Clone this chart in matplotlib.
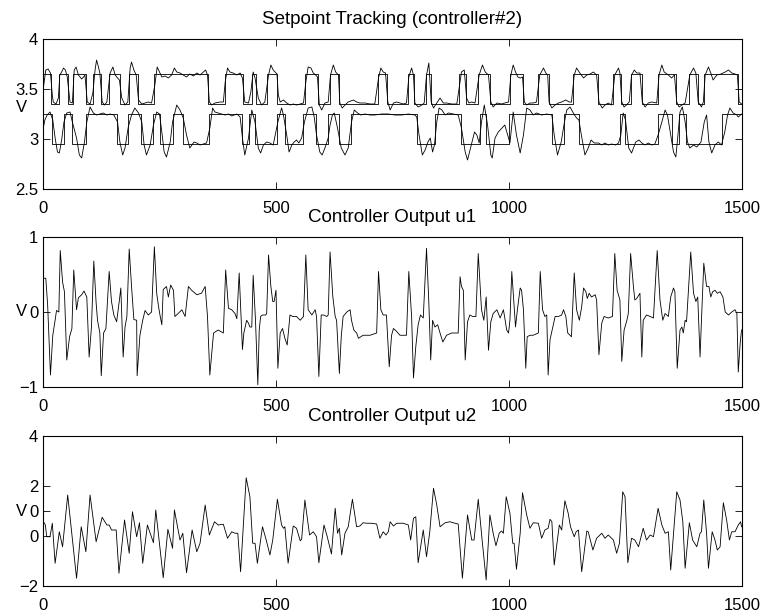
import matplotlib
matplotlib.use("Agg")
import matplotlib.pyplot as plt

plt.rcParams['font.family'] = ['Liberation Sans', 'DejaVu Sans']
plt.rcParams['font.size'] = 12

# ---------------- data ----------------
# Setpoint 1 (upper): switching times and level held from each time
sp1_t = [0, 17, 34, 54, 64, 93, 107, 125, 141, 166, 185, 203, 238, 355, 390, 430,
         449, 457, 481, 503, 562, 590, 615, 636, 718, 738, 783, 797, 821, 832, 893,
         907, 933, 959, 1002, 1031, 1063, 1085, 1138, 1191, 1224, 1240, 1261, 1285,
         1320, 1358, 1386, 1405, 1418, 1491, 1500]
sp1_v = [3.65, 3.35, 3.65, 3.35, 3.65, 3.35, 3.65, 3.35, 3.65, 3.35, 3.65, 3.35,
         3.65, 3.35, 3.65, 3.35, 3.65, 3.35, 3.65, 3.35, 3.65, 3.35, 3.65, 3.35,
         3.65, 3.35, 3.65, 3.35, 3.65, 3.35, 3.65, 3.35, 3.65, 3.35, 3.65, 3.35,
         3.65, 3.35, 3.65, 3.35, 3.65, 3.35, 3.65, 3.35, 3.65, 3.35, 3.65, 3.35,
         3.65, 3.35, 3.35]

# Setpoint 2 (lower)
sp2_t = [0, 20, 45, 63, 92, 158, 183, 210, 235, 252, 278, 300, 356, 426, 441, 455,
         503, 520, 558, 585, 612, 636, 660, 803, 842, 898, 938, 950, 1001, 1092,
         1117, 1150, 1238, 1248, 1320, 1350, 1364, 1380, 1458, 1500]
sp2_v = [3.25, 2.95, 3.25, 2.95, 3.25, 2.95, 3.25, 2.95, 3.25, 2.95, 3.25, 2.95,
         3.25, 2.95, 3.25, 2.95, 3.25, 2.95, 3.25, 2.95, 3.25, 2.95, 3.25, 2.95,
         3.25, 2.95, 3.25, 2.95, 3.25, 2.95, 3.25, 2.95, 3.25, 2.95, 3.25, 2.95,
         3.25, 2.95, 3.25, 3.25]

# Output 1 (upper band)
y1_t = [1, 6, 11, 16, 20, 22, 28, 33, 36, 40, 44, 48, 52, 58, 63, 67, 71, 76, 83, 87,
        90, 95, 101, 107, 112, 115, 119, 122, 127, 132, 137, 144, 150, 155, 160, 164,
        169, 176, 182, 187, 190, 195, 200, 205, 212, 219, 226, 233, 240, 245, 251,
        255, 262, 269, 276, 282, 287, 294, 301, 308, 315, 323, 330, 337, 344, 349,
        353, 357, 362, 369, 380, 387, 391, 396, 401, 408, 416, 423, 428, 433, 441,
        446, 451, 455, 462, 469, 476, 484, 489, 494,
        502, 505, 509, 516, 523, 530, 537, 544, 552, 559, 564, 569, 575, 580, 585,
        589, 593, 598, 605, 612, 617, 623, 628, 634, 637, 642, 648, 655, 666, 673,
        680, 691, 702, 712, 720, 725, 730, 735, 740, 745, 752, 759, 766, 773, 780,
        785, 791, 795, 798, 805, 813, 818, 823, 828, 833, 838, 845, 852, 859, 866,
        877, 888, 893, 898, 904, 909, 914, 920, 927, 936, 943, 949, 956, 961, 966,
        974, 984,
        991, 999, 1004, 1009, 1014, 1019, 1024, 1029, 1033, 1038, 1045, 1052, 1059,
        1066, 1074, 1079, 1083, 1086, 1092, 1099, 1106, 1113, 1122, 1129, 1134, 1140,
        1145, 1152, 1160, 1167, 1174, 1181, 1188, 1193, 1200, 1206, 1213, 1220, 1227,
        1235, 1238, 1242, 1247, 1252, 1258, 1263, 1269, 1274, 1281, 1286, 1292, 1299,
        1306, 1317, 1322, 1328, 1333, 1342, 1349, 1355, 1360, 1365, 1371, 1378, 1388,
        1396, 1401, 1406, 1413, 1417, 1421, 1428, 1433, 1438, 1446, 1455, 1464, 1471,
        1478, 1485, 1490, 1494, 1499]
y1_v = [3.52, 3.69, 3.70, 3.66, 3.44, 3.37, 3.35, 3.41, 3.64, 3.67, 3.71, 3.69, 3.62,
        3.37, 3.36, 3.69, 3.72, 3.64, 3.60, 3.62, 3.64, 3.37, 3.35, 3.46, 3.70, 3.79,
        3.72, 3.66, 3.37, 3.34, 3.37, 3.66, 3.72, 3.64, 3.61, 3.59, 3.41, 3.34, 3.37,
        3.71, 3.77, 3.69, 3.64, 3.39, 3.35, 3.36, 3.37, 3.36, 3.54, 3.72, 3.66, 3.62,
        3.63, 3.61, 3.64, 3.71, 3.67, 3.66, 3.64, 3.62, 3.65, 3.63, 3.66, 3.64, 3.67,
        3.69, 3.64, 3.37, 3.34, 3.36, 3.37, 3.37, 3.57, 3.71, 3.67, 3.66, 3.64, 3.66,
        3.61, 3.37, 3.36, 3.47, 3.67, 3.61, 3.41, 3.34, 3.37, 3.64, 3.74, 3.69,
        3.65, 3.44, 3.37, 3.39, 3.36, 3.34, 3.35, 3.34, 3.35, 3.36, 3.57, 3.72, 3.71,
        3.66, 3.64, 3.62, 3.34, 3.29, 3.36, 3.37, 3.64, 3.74, 3.67, 3.64, 3.36, 3.31,
        3.34, 3.37, 3.39, 3.37, 3.36, 3.36, 3.35, 3.35, 3.61, 3.71, 3.67, 3.66, 3.37,
        3.29, 3.36, 3.37, 3.36, 3.35, 3.36, 3.62, 3.71, 3.64, 3.36, 3.32, 3.34, 3.36,
        3.64, 3.76, 3.37, 3.31, 3.36, 3.41, 3.36, 3.36, 3.35, 3.35, 3.51, 3.67, 3.69,
        3.41, 3.36, 3.37, 3.36, 3.64, 3.74, 3.67, 3.64, 3.37, 3.32, 3.36, 3.35,
        3.36, 3.37, 3.64, 3.74, 3.67, 3.62, 3.61, 3.62, 3.37, 3.34, 3.36, 3.36, 3.37,
        3.64, 3.71, 3.66, 3.64, 3.37, 3.31, 3.34, 3.36, 3.37, 3.39, 3.37, 3.37, 3.64,
        3.71, 3.66, 3.61, 3.64, 3.65, 3.67, 3.64, 3.37, 3.31, 3.34, 3.36, 3.34, 3.64,
        3.71, 3.66, 3.37, 3.32, 3.34, 3.37, 3.64, 3.69, 3.66, 3.66, 3.37, 3.32, 3.36,
        3.37, 3.36, 3.64, 3.74, 3.67, 3.64, 3.61, 3.64, 3.37, 3.32, 3.34, 3.36, 3.64,
        3.71, 3.66, 3.37, 3.32, 3.37, 3.64, 3.72, 3.66, 3.59, 3.64, 3.65, 3.67, 3.69,
        3.66, 3.65, 3.64, 3.37, 3.35]

# Output 2 (lower band)
y2_t = [1, 4, 9, 15, 21, 26, 31, 35, 40, 45, 51, 58, 63, 72, 78, 83, 89, 94, 101, 108,
        115, 122, 129, 137, 144, 152, 160, 165, 171, 176, 183, 190, 197, 205, 212,
        217, 222, 230, 237, 244, 250, 255, 260, 265, 273, 278, 287, 294, 301, 308,
        315, 324, 330, 337, 344, 351, 358, 364, 369, 376, 383, 391, 398, 405, 416,
        423, 428, 433, 441, 448, 455, 462, 467, 473, 480, 487, 494,
        504, 512, 516, 523, 528, 534, 539, 544, 549, 555, 561, 569, 577, 582, 587,
        594, 599, 605, 612, 616, 621, 625, 632, 640, 648, 655, 662, 668, 675, 682,
        691, 702, 712, 727, 741, 755, 770, 784, 798, 802, 807, 814, 820, 826, 831,
        836, 840, 845, 850, 856, 863, 870, 881, 891, 898, 906, 911, 919, 926, 931,
        936, 941, 947, 954, 961, 964, 970, 977,
        991, 997, 1002, 1009, 1016, 1024, 1031, 1038, 1045, 1052, 1059, 1070, 1081,
        1092, 1097, 1104, 1112, 1119, 1124, 1131, 1138, 1145, 1150, 1156, 1163, 1170,
        1176, 1183, 1192, 1199, 1206, 1213, 1220, 1229, 1235, 1240, 1245, 1250, 1257,
        1263, 1272, 1279, 1285, 1292, 1299, 1306, 1313, 1320, 1328, 1335, 1340, 1346,
        1353, 1358, 1362, 1367, 1372, 1378, 1383, 1388, 1396, 1403, 1412, 1419, 1424,
        1429, 1435, 1442, 1449, 1456, 1463, 1469, 1474, 1481, 1489, 1492, 1499]
y2_v = [3.12, 3.19, 3.24, 3.27, 3.19, 3.01, 2.87, 2.86, 2.99, 3.17, 3.26, 3.27, 3.17,
        3.01, 2.84, 2.81, 2.97, 3.17, 3.32, 3.26, 3.24, 3.25, 3.26, 3.24, 3.25, 3.24,
        3.17, 2.97, 2.84, 2.91, 3.12, 3.24, 3.31, 3.26, 3.17, 2.94, 2.84, 2.94, 3.14,
        3.27, 3.25, 3.07, 2.87, 2.82, 2.97, 3.17, 3.34, 3.29, 3.21, 3.04, 2.91, 2.97,
        2.96, 2.94, 2.95, 2.96, 3.11, 3.31, 3.27, 3.26, 3.25, 3.24, 3.25, 3.23, 3.25,
        3.22, 3.01, 2.84, 3.01, 3.29, 3.17, 2.91, 2.86, 2.94, 2.97, 2.96, 2.94,
        3.17, 3.31, 3.24, 3.04, 2.87, 2.94, 2.97, 2.99, 2.96, 3.01, 3.17, 3.31, 3.32,
        3.22, 3.04, 2.87, 2.84, 2.91, 3.01, 3.14, 3.24, 3.26, 3.11, 2.91, 2.84, 2.91,
        3.17, 3.29, 3.26, 3.24, 3.25, 3.24, 3.24, 3.25, 3.25, 3.24, 3.24, 3.25, 3.24,
        3.22, 3.04, 2.84, 2.89, 2.97, 3.01, 2.87, 2.94, 3.17, 3.31, 3.29, 3.24, 3.26,
        3.25, 3.24, 3.11, 2.87, 2.79, 2.94, 3.07, 3.04, 2.96, 3.17, 3.34, 3.14, 2.84,
        2.81, 3.01, 3.07,
        3.14, 3.04, 2.96, 3.27, 3.04, 2.86, 3.04, 3.31, 3.29, 3.24, 3.26, 3.24, 3.25,
        3.24, 3.04, 2.84, 2.97, 3.17, 3.29, 3.32, 3.26, 3.21, 3.19, 3.02, 2.84, 2.91,
        2.99, 2.96, 2.96, 2.94, 2.96, 2.94, 2.95, 2.94, 2.96, 3.04, 3.26, 3.19, 2.91,
        2.86, 2.97, 2.99, 2.96, 2.94, 2.96, 2.94, 2.95, 3.04, 3.17, 3.29, 3.24, 3.07,
        2.87, 2.82, 3.01, 3.27, 3.32, 3.17, 2.97, 2.91, 2.94, 2.92, 2.97, 3.17, 3.24,
        2.97, 2.86, 2.94, 2.97, 2.94, 3.07, 3.24, 3.31, 3.26, 3.24, 3.22, 3.25]

# Controller output u1
u1_t = [1, 6, 10, 16, 21, 26, 29, 34, 37, 42, 46, 51, 57, 62, 66, 72, 76, 83, 88, 94,
        99, 104, 109, 114, 117, 122, 125, 130, 135, 142, 147, 152, 158, 164, 167, 172,
        176, 180, 185, 190, 195, 201, 202, 208, 214, 219, 226, 233, 239, 244, 248,
        251, 255, 258, 265, 269, 274, 280, 283, 290, 298, 305, 312, 319, 330, 340,
        348, 353, 358, 366, 376, 387, 392, 398, 405, 412, 416, 421, 428, 431, 437,
        441,
        444, 448, 451, 456, 461, 464, 467, 471, 478, 480, 484, 489, 493, 496, 500,
        504, 509, 514, 519, 524, 530, 536, 544, 552, 559, 564, 569, 577, 584, 587,
        592, 597, 602, 609, 612, 616, 622, 627, 630, 636, 640, 644, 652, 659, 662,
        667, 673, 677, 687, 702, 716, 720, 725, 730, 737, 743, 748, 752, 759, 766,
        780, 785, 791, 795, 800, 805, 810, 816, 823, 828, 832, 836, 841, 847, 852,
        858, 866, 877, 891, 895, 898, 902, 906, 911, 916, 922, 929, 934, 941, 946,
        951, 956, 961, 966, 974,
        981, 988, 991, 995, 999, 1002, 1006, 1011, 1014, 1018, 1024, 1027, 1031, 1036,
        1039, 1045, 1052, 1063, 1067, 1072, 1077, 1081, 1084, 1088, 1094, 1099, 1106,
        1113, 1117, 1122, 1126, 1131, 1134, 1140, 1145, 1151, 1156, 1160, 1165, 1168,
        1172, 1177, 1185, 1188, 1193, 1199, 1204, 1213, 1222, 1227, 1232, 1238, 1242,
        1247, 1253, 1256, 1261, 1267, 1270, 1274, 1281, 1285, 1288, 1295, 1303, 1310,
        1318, 1324, 1330, 1335, 1342, 1347, 1353, 1356, 1361, 1367, 1371, 1374, 1378,
        1381, 1390, 1396, 1401, 1405, 1410, 1413, 1418, 1424, 1429, 1433, 1437, 1442,
        1447, 1453, 1459, 1464, 1471, 1478, 1485, 1489, 1492, 1496, 1499]
u1_v = [0.45, 0.45, 0.09, -0.84, -0.31, -0.11, 0.02, 0.00, 0.82, 0.40, 0.27, -0.64,
        -0.33, -0.22, 0.56, 0.03, 0.19, 0.23, 0.28, 0.20, -0.60, -0.20, 0.68, 0.12,
        -0.11, -0.28, -0.85, -0.28, -0.22, 0.54, 0.14, -0.04, -0.13, 0.16, 0.32,
        -0.60, -0.20, -0.06, 0.84, 0.34, -0.10, -0.11, -0.85, -0.31, -0.11, 0.02,
        -0.04, 0.00, 0.87, 0.25, 0.07, -0.04, -0.17, 0.30, 0.34, 0.20, 0.36, 0.29,
        -0.06, -0.02, 0.03, -0.06, 0.34, 0.29, 0.23, 0.25, 0.34, -0.06, -0.84, -0.28,
        -0.24, -0.28, 0.56, 0.05, 0.03, -0.02, -0.09, 0.52, -0.50, -0.28, -0.11,
        -0.15,
        -0.20, -0.20, 0.49, -0.11, -0.97, -0.24, -0.06, -0.04, -0.04, -0.02, 0.76,
        0.34, 0.14, 0.14, 0.29, -0.75, -0.28, -0.22, -0.35, -0.44, -0.04, -0.06,
        -0.06, -0.11, -0.06, 0.76, 0.03, -0.04, 0.03, -0.06, -0.86, -0.04, -0.04,
        -0.06, -0.04, 0.80, 0.20, -0.06, -0.11, -0.82, -0.33, -0.06, 0.00, 0.03,
        -0.11, -0.24, -0.28, -0.35, -0.31, -0.31, -0.28, 0.54, 0.03, -0.04, -0.04,
        -0.73, -0.31, -0.22, -0.26, -0.31, -0.31, 0.54, -0.06, -0.88, -0.46, -0.17,
        -0.04, -0.08, 0.85, 0.12, -0.64, -0.11, -0.20, -0.17, -0.28, -0.40, -0.31,
        -0.28, -0.28, 0.47, 0.34, 0.29, -0.64, -0.13, -0.04, -0.06, -0.06, 0.78,
        0.03, -0.11, 0.20, -0.51, -0.13, -0.02, 0.03,
        -0.08, 0.03, -0.08, -0.24, -0.28, -0.11, 0.54, 0.07, -0.20, 0.03, 0.32, 0.29,
        0.03, -0.75, -0.33, -0.31, -0.31, -0.28, 0.54, 0.03, -0.06, -0.04, -0.84,
        -0.37, -0.20, -0.06, -0.06, -0.04, 0.03, -0.06, -0.28, -0.31, -0.33, 0.52,
        0.03, -0.11, 0.07, 0.32, 0.27, 0.18, 0.25, 0.20, 0.23, 0.16, -0.57, -0.15,
        -0.06, -0.08, -0.06, 0.78, 0.29, 0.16, -0.66, -0.24, -0.11, -0.02, 0.78,
        0.34, 0.16, 0.18, 0.25, -0.60, -0.11, -0.04, -0.06, -0.08, 0.82, 0.16, -0.11,
        -0.02, -0.06, 0.20, 0.32, 0.27, -0.75, -0.24, -0.20, -0.28, -0.11, -0.13,
        0.80, 0.25, 0.14, 0.20, -0.60, -0.11, 0.65, 0.34, 0.34, 0.20, 0.27, 0.29,
        0.25, 0.27, 0.20, 0.00, -0.04, 0.00, 0.03, -0.02, -0.80, -0.42, -0.24]

# Controller output u2
u2_t = [1, 5, 8, 15, 20, 26, 35, 42, 53, 72, 82, 92, 101, 114, 127, 137, 142, 147, 157,
        163, 175, 185, 192, 201, 207, 214, 224, 237, 242, 258, 268, 278, 282, 294,
        300, 308, 320, 330, 337, 348, 357, 368, 376, 387, 396, 405, 412, 418, 424,
        436,
        444, 450, 455, 460, 471, 479, 487, 493, 503, 512, 516, 519, 526, 537, 544,
        552, 555, 562, 572, 580, 587, 592, 603, 610, 619, 627, 632, 636, 641, 648,
        655, 664, 673, 680, 687, 695, 705, 716, 723, 730, 736, 741, 745, 752, 759,
        773, 784, 789, 795, 800, 805, 816, 823, 830, 838, 845, 852, 863, 873, 884,
        891, 900, 911, 920, 925, 934, 943, 951, 959, 966, 972, 979, 984,
        988, 994, 1002, 1008, 1011, 1016, 1024, 1029, 1038, 1045, 1052, 1063, 1070,
        1077, 1084, 1088, 1092, 1097, 1108, 1113, 1120, 1127, 1132, 1140, 1144, 1149,
        1156, 1167, 1170, 1180, 1188, 1199, 1206, 1213, 1224, 1231, 1237, 1244, 1249,
        1255, 1263, 1270, 1278, 1288, 1295, 1303, 1310, 1320, 1328, 1335, 1342, 1347,
        1360, 1367, 1373, 1378, 1387, 1394, 1403, 1410, 1413, 1418, 1424, 1428, 1436,
        1442, 1447, 1453, 1460, 1467, 1473, 1478, 1485, 1492, 1497, 1499]
u2_v = [0.57, 0.44, -0.03, -0.03, 0.51, -1.09, 0.17, -0.43, 1.64, -1.69, 0.37, -0.63,
        1.64, -0.23, 0.75, 0.44, 0.44, 0.24, 0.24, -1.49, 0.64, -0.69, 0.97, -0.03,
        0.53, -1.09, 0.44, -0.27, 1.04, -1.67, 0.27, -0.49, 1.04, -0.16, 0.11, -1.47,
        0.24, -0.63, -0.29, 1.24, 0.04, 0.57, 0.44, 0.47, -0.09, 0.17, 0.11, 0.11,
        -1.43, 2.33,
        1.57, -0.29, -0.29, -1.09, 0.37, -0.16, -0.76, -0.16, 1.47, 0.44, 0.31, 0.37,
        -1.09, 0.40, 0.31, -0.19, -0.13, 1.44, 0.04, 0.17, -0.03, -1.07, 0.44, -0.03,
        -0.72, 1.11, 0.11, 0.31, -0.76, 0.11, 0.37, 1.47, 0.37, 0.40, 0.53, 0.51,
        0.51, 0.48, -0.09, 0.17, 0.04, 0.17, 0.57, 0.40, 0.51, 0.51, 0.44, -0.16,
        0.71, 0.77, -1.07, 0.24, -0.83, 0.17, 1.91, 1.24, 0.37, 0.53, 0.57, 0.51,
        0.48, -1.69, 0.84, -0.16, -0.16, 1.47, -0.29, -1.76, 0.84, 0.11, -0.39, 0.11,
        0.20,
        0.11, 1.57, 0.91, -0.29, -0.29, -1.33, 0.11, 1.73, 0.84, 0.31, 0.53, 0.51,
        -0.09, 0.24, 0.31, 0.67, 0.57, -1.16, 0.44, 0.24, 1.41, 0.91, 0.37, -0.03,
        0.17, 0.24, -1.43, 0.20, 0.17, -0.56, -0.09, 0.11, -0.09, 0.04, -0.16, -0.69,
        -0.29, 1.77, 1.57, -1.07, -0.09, -0.16, -0.43, 0.31, -0.16, 0.04, -0.03, 1.11,
        0.44, 0.11, 0.17, -1.36, 1.77, 1.44, 0.57, -1.29, 0.53, -0.16, -0.43, 0.11,
        0.17, 1.44, 0.11, -1.29, 0.17, -0.16, -0.56, -0.43, 1.33, 0.64, -0.16, 0.17,
        0.17, 0.44, 0.57, 0.37]

xticks = [0, 500, 1000, 1500]

titles = ['Setpoint Tracking (controller#2)', 'Controller Output u1', 'Controller Output u2']
ylims = [(2.5, 4), (-1, 1), (-2, 4)]
yticks_list = [[2.5, 3, 3.5, 4], [-1, 0, 1], [-2, 0, 1, 2, 4]]
yticklabels_list = [['2.5', '3', '3.5', '4'], ['\u22121', '0', '1'],
                    ['\u22122', '0', '0', '2', '4']]

# ---------------- figure ----------------
fig = plt.figure(figsize=(7.67, 6.13), dpi=100)
W, H = 767.0, 613.0
ax_px = [(43, 39, 742, 189), (43, 237, 742, 387), (43, 436, 742, 586)]
axes = []
for (l, t, r, b) in ax_px:
    axes.append(fig.add_axes([l / W, 1 - b / H, (r - l) / W, (b - t) / H]))

lc = 'black'
lw = 0.6
ax = axes[0]
ax.plot(sp1_t, sp1_v, drawstyle='steps-post', color=lc, lw=lw)
ax.plot(sp2_t, sp2_v, drawstyle='steps-post', color=lc, lw=lw)
ax.plot(y1_t, y1_v, color=lc, lw=lw)
ax.plot(y2_t, y2_v, color=lc, lw=lw)
axes[1].plot(u1_t, u1_v, color=lc, lw=lw)
axes[2].plot(u2_t, u2_v, color=lc, lw=lw)

label_y = [0.54, 0.5, 0.5]
for i, ax in enumerate(axes):
    ax.set_xlim(0, 1500)
    ax.set_ylim(*ylims[i])
    ax.set_xticks(xticks)
    ax.set_xticklabels([str(v) for v in xticks])
    ax.set_yticks(yticks_list[i])
    ax.set_yticklabels(yticklabels_list[i])
    ax.tick_params(direction='in', length=5, width=0.6, top=True, right=True,
                   labelsize=12, pad=3.5)
    ax.tick_params(axis='x', pad=8.5)
    for s in ax.spines.values():
        s.set_linewidth(0.8)
    ax.set_title(titles[i], fontsize=13.5, pad=10.5)
    ax.set_ylabel('V', rotation=0, ha='center', va='center', fontsize=12)
    ax.yaxis.set_label_coords(-0.031, label_y[i])

fig.savefig('out.png', dpi=100)
